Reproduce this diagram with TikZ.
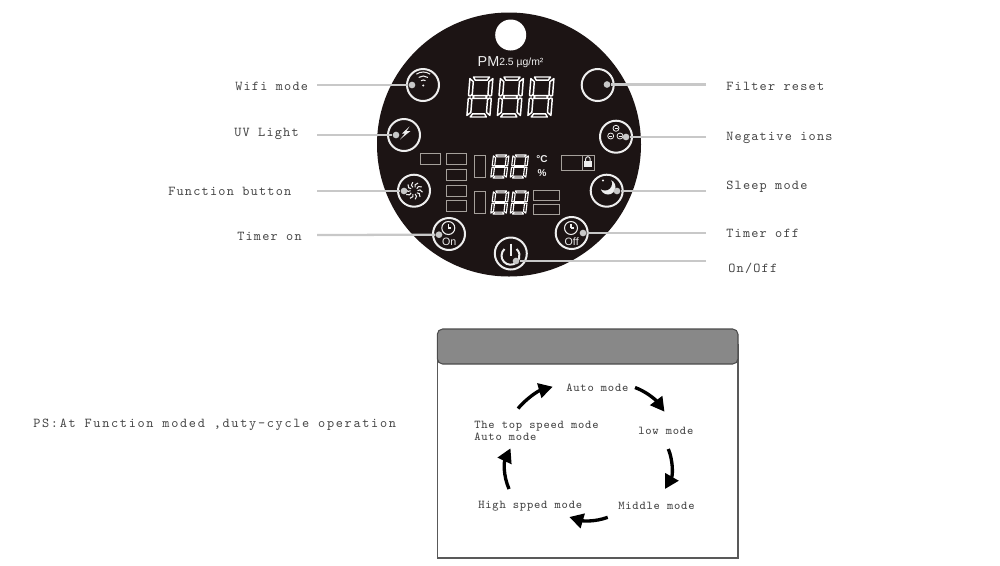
\documentclass[tikz,border=0pt]{standalone}
\usepackage{fontspec}
\setmainfont{Liberation Sans}
\newfontfamily\lblfont[LetterSpace=9]{Latin Modern Mono}
\newfontfamily\psfont[LetterSpace=12.5]{Latin Modern Mono}
\newfontfamily\boxfont[LetterSpace=6.5]{Latin Modern Mono}
\usetikzlibrary{arrows.meta}
\definecolor{panel}{RGB}{28,20,20}
\definecolor{leadc}{RGB}{200,200,200}
\definecolor{txtc}{RGB}{68,68,68}
\definecolor{iconc}{RGB}{238,238,238}
\definecolor{rectc}{RGB}{165,160,155}
\definecolor{headc}{RGB}{136,136,136}
\tikzset{
  btn/.style={circle,draw=iconc,line width=1.5pt,minimum size=24pt,inner sep=0pt},
  leaddot/.style={circle,fill=leadc,minimum size=5pt,inner sep=0pt},
  lead/.style={draw=leadc,line width=1.7pt},
  lbl/.style={anchor=west,inner sep=0pt,text=txtc,font=\lblfont\fontsize{10.2pt}{11pt}\selectfont},
  boxlbl/.style={anchor=west,inner sep=0pt,text=txtc,font=\boxfont\fontsize{9pt}{9.6pt}\selectfont,align=left},
  lcd/.style={draw=rectc,line width=.7pt},
  cyc/.style={line width=2.5pt,black,-{Triangle[length=10.5pt,width=11pt]}},
  icon/.style={draw=iconc,line width=.8pt},
  seg/.style={draw=white,line width=.75pt,line join=round},
}
% \sevseg{x}{y}{unit x}{unit y}{skew}{line width}
\newcommand{\sevseg}[6]{%
 \begin{scope}[shift={(#1,#2)},x={(#3*.75pt,0pt)},y={(-#5*.75pt,-#4*.75pt)},seg/.append style={line width=#6}]
  \draw[seg] (1.5,0)--(8.5,0)--(7.6,1.6)--(2.4,1.6)--cycle;
  \draw[seg] (1.5,20)--(8.5,20)--(7.6,18.4)--(2.4,18.4)--cycle;
  \draw[seg] (1.8,9.3)--(8.2,9.3)--(7.6,10)--(8.2,10.7)--(1.8,10.7)--(2.4,10)--cycle;
  \draw[seg] (0,.8)--(1.6,2.3)--(1.6,8.6)--(.8,9.5)--(0,9.2)--cycle;
  \draw[seg] (10,.8)--(8.4,2.3)--(8.4,8.6)--(9.2,9.5)--(10,9.2)--cycle;
  \draw[seg] (0,19.2)--(1.6,17.7)--(1.6,11.4)--(.8,10.5)--(0,10.8)--cycle;
  \draw[seg] (10,19.2)--(8.4,17.7)--(8.4,11.4)--(9.2,10.5)--(10,10.8)--cycle;
 \end{scope}}
\begin{document}
\begin{tikzpicture}[x=.75pt,y=-.75pt]
\useasboundingbox (0,0) rectangle (1000,565);
% panel
\fill[panel] (509,144.5) circle[radius=132];
\fill[white] (510.7,35) circle[radius=15.5];
% PM text
\node[inner sep=0pt,text=iconc,font=\fontsize{10.8pt}{12pt}\selectfont] (pm) at (488.5,62) {PM};
\node[anchor=west,inner sep=0pt,text=iconc,font=\fontsize{7.8pt}{9pt}\selectfont] (pmu) at (499,63) {2.5 µg/m²};
% digits
\sevseg{470}{77}{2.3}{2}{.16}{1.1pt}
\sevseg{500.5}{77}{2.3}{2}{.16}{1.1pt}
\sevseg{531}{77}{2.3}{2}{.16}{1.1pt}
\sevseg{493.5}{155}{1.55}{1.15}{.14}{.85pt}
\sevseg{513}{155}{1.55}{1.15}{.14}{.85pt}
\sevseg{493.5}{191}{1.55}{1.15}{.14}{.85pt}
\sevseg{513}{191}{1.55}{1.15}{.14}{.85pt}
% LCD rectangles
\draw[lcd] (420.7,153.3) rectangle (440.7,164);
\draw[lcd] (446,153.3) rectangle (466,164);
\draw[lcd] (446,169) rectangle (466,180);
\draw[lcd] (446,185) rectangle (466,196);
\draw[lcd] (446,200.7) rectangle (466,211.7);
\draw[lcd] (474,155.7) rectangle (485.7,177.3);
\draw[lcd] (474,191.7) rectangle (485.7,213.3);
\draw[lcd] (533.3,190) rectangle (559.3,200.7);
\draw[lcd] (533.3,204) rectangle (559.3,214.7);
\draw[lcd] (561.3,155) rectangle (594,170);
\draw[lcd] (582.3,155) -- (582.3,170);
\fill[iconc] (584,161) rectangle (591.7,167);
\draw[iconc,line width=.7pt] (585.6,161) -- (585.6,159) arc[start angle=180,end angle=360,radius=2.3] -- (590.2,161);
\node[inner sep=0pt,text=iconc,font=\bfseries\fontsize{7.5pt}{8pt}\selectfont] (degc) at (542,159.5) {°C};
\node[inner sep=0pt,text=iconc,font=\bfseries\fontsize{7.5pt}{8pt}\selectfont] (pct) at (542,173.5) {\%};
% buttons
\node[btn] (wifi) at (423,85) {};
\node[btn] (filter) at (597.7,85) {};
\node[btn] (uv) at (404,135) {};
\node[btn] (ions) at (616,136.7) {};
\node[btn] (func) at (414,190.7) {};
\node[btn] (sleep) at (606.7,190.7) {};
\node[btn] (ton) at (449,234) {};
\node[btn] (toff) at (571.7,233) {};
\node[btn] (power) at (510.8,253.5) {};
% wifi icon
\foreach \r in {4,8,12}
  \draw[icon] (423.3+\r*.57,84-\r*.82) arc[start angle=305,end angle=235,radius=\r];
\fill[iconc] (423.3,85.5) circle[radius=1.1];
% bolt
\fill[iconc] (409.5,126.5) -- (402,133.5) -- (405,133.5) -- (400,139.5) -- (410.5,131) -- (406.5,131) -- cycle;
% ions
\foreach \a/\b in {616/128.3,610.7/136,620/136}{
  \draw[icon,line width=.6pt] (\a,\b) circle[radius=3];
  \draw[icon,line width=.6pt] (\a-1.5,\b) -- (\a+1.5,\b);
}
% fan
\foreach \t in {0,36,...,324}{
  \begin{scope}[shift={(414,190.7)},rotate=\t]
    \draw[iconc,line width=.8pt] (3.5,0) .. controls (5,-1.5) and (7,-1) .. (8.5,1.5);
  \end{scope}
}
% moon
\fill[iconc] (608,187) circle[radius=7.5];
\fill[panel] (605,183.5) circle[radius=7];
\fill[iconc] (603,180.5) circle[radius=1.2];
% clocks
\draw[icon] (448.3,228) circle[radius=6.5];
\draw[icon] (448.3,228) -- (448.3,223.5);
\draw[icon] (448.3,228) -- (451,228);
\draw[icon] (571,228) circle[radius=6.5];
\draw[icon] (571,228) -- (571,223.5);
\draw[icon] (571,228) -- (573.7,228);
\node[inner sep=0pt,text=iconc,font=\fontsize{8pt}{8pt}\selectfont] (ontxt) at (449.3,241.7) {On};
\node[inner sep=0pt,text=iconc,font=\fontsize{8pt}{8pt}\selectfont] (offtxt) at (571.7,241.7) {Off};
% power icon
\draw[iconc,line width=1.5pt] (504.5,249) arc[start angle=228,end angle=-48,radius=9];
\draw[iconc,line width=1.5pt] (510.7,243.5) -- (510.7,256);
% leader dots
\node[leaddot] (dwifi) at (412,85) {};
\node[leaddot] (dfilter) at (607,84.5) {};
\node[leaddot] (duv) at (396,135) {};
\node[leaddot] (dions) at (626,137) {};
\node[leaddot] (dfunc) at (404,191) {};
\node[leaddot] (dsleep) at (617,191) {};
\node[leaddot] (dton) at (439,234.7) {};
\node[leaddot] (dtoff) at (583,233) {};
\node[leaddot] (dpower) at (516,261) {};
% leader ends
\coordinate (ewifi) at (317,85);
\coordinate (euv) at (317,135);
\coordinate (efunc) at (317,191);
\coordinate (eton) at (317,235);
\coordinate (efilter) at (706,84.5);
\coordinate (eions) at (706,137);
\coordinate (esleep) at (706,191);
\coordinate (etoff) at (706,233);
\coordinate (epower) at (706,261);
\foreach \a/\b in {ewifi/dwifi,euv/duv,efunc/dfunc,eton/dton,efilter/dfilter,eions/dions,esleep/dsleep,etoff/dtoff,epower/dpower}
  \draw[lead] (\a) -- (\b);
% labels
\node[lbl] (lwifi) at (235,86.5) {Wifi mode};
\node[lbl] (luv) at (234,134) {UV Light};
\node[lbl] (lfunc) at (168,191) {Function button};
\node[lbl] (lton) at (237,236) {Timer on};
\node[lbl] (lfilter) at (726,86.5) {Filter reset};
\node[lbl] (lions) at (726,138) {Negative ions};
\node[lbl] (lsleep) at (726,187) {Sleep mode};
\node[lbl] (ltoff) at (726,233) {Timer off};
\node[lbl] (lpower) at (728,268) {On/Off};
\node[lbl,font=\psfont\fontsize{10.2pt}{11pt}\selectfont] (ps) at (33,425) {PS:At Function moded ,duty-cycle operation};
% box
\draw[draw=black!65,line width=.8pt] (437.3,345) rectangle (738,558);
\draw[draw=black!70,fill=headc,line width=.8pt,rounded corners=4pt] (437.3,329) rectangle (738,364);
% box labels
\node[boxlbl] (auto) at (566,388) {Auto mode};
\node[boxlbl] (low) at (638,430.5) {low mode};
\node[boxlbl] (mid) at (618,506) {Middle mode};
\node[boxlbl] (high) at (478,506) {High spped mode};
\node[boxlbl] (top) at (474,431) {The top speed mode\\[-.5pt]Auto mode};
% cycle arrows
\coordinate (a1) at (518,408.5); \coordinate (b1) at (552.7,386.7);
\coordinate (a2) at (635,387.5); \coordinate (b2) at (664.5,411.7);
\coordinate (a3) at (668.3,449); \coordinate (b3) at (665,489);
\coordinate (a4) at (607.7,517.3); \coordinate (b4) at (569.3,517);
\coordinate (a5) at (509,489); \coordinate (b5) at (510.5,448.3);
\draw[cyc] (a1) .. controls (527,398) and (538,391) .. (b1);
\draw[cyc] (a2) .. controls (645,391) and (655,399) .. (b2);
\draw[cyc] (a3) .. controls (673,460) and (673,475) .. (b3);
\draw[cyc] (a4) .. controls (595,522) and (583,521) .. (b4);
\draw[cyc] (a5) .. controls (503,475) and (504,462) .. (b5);
\end{tikzpicture}
\end{document}
